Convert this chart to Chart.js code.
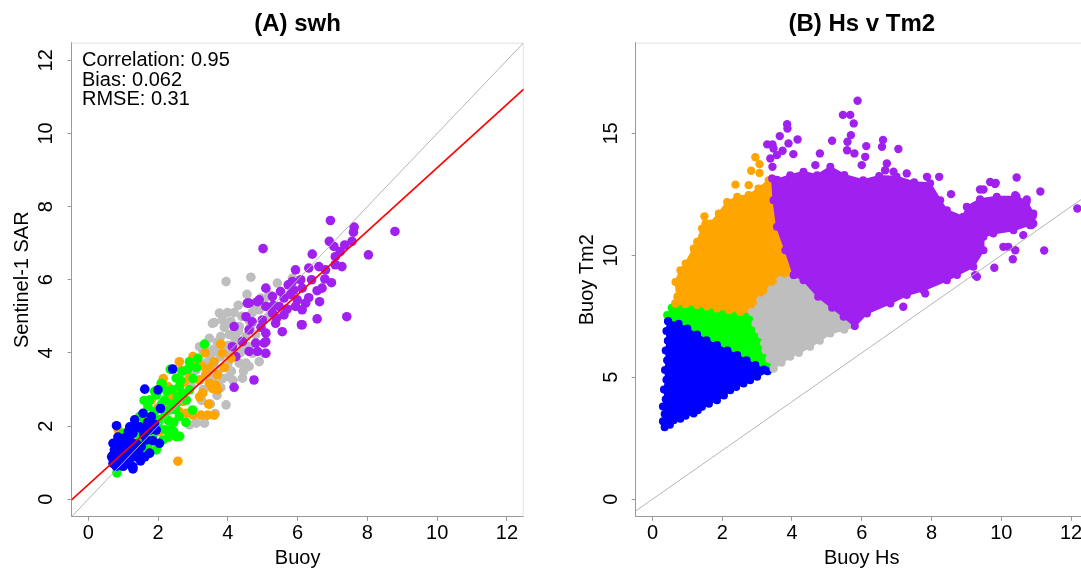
<!DOCTYPE html>
<html lang="en">
<head>
  <meta charset="UTF-8">
  <title>swh / Hs v Tm2</title>
  <script src="https://cdn.jsdelivr.net/npm/chart.js"></script>
  <style>
    html, body { margin: 0; padding: 0; background: #fff; overflow: hidden; }
    #wrap { position: relative; width: 1081px; height: 570px; overflow: hidden; }
    #swh { position: absolute; left: 0; top: 0; }
    #hstm { position: absolute; left: 560px; top: 0; }
  </style>
</head>
<body>
  <div id="wrap">
    <canvas id="swh" width="560" height="570"></canvas>
    <canvas id="hstm" width="540" height="570"></canvas>
  </div>

  <script>
    // ---- panel A: Sentinel-1 SAR vs buoy wave height ----
    const swhLimits = [-0.48, 12.48];
    const swhTicks = [0, 2, 4, 6, 8, 10, 12];
    const statLines = ['Correlation: 0.95', 'Bias: 0.062', 'RMSE: 0.31'];

    const swhBlue = [[0.71,1.53],[0.9,1.62],[1.1,1.71],[1.28,1.8],[1.0,1.44],[1.19,1.35],[0.81,1.26],[0.67,1.16],
      [0.9,1.07],[1.1,0.98],[1.28,0.89],[1.38,1.16],[1.52,1.44],[1.67,1.62],[1.76,1.89],[1.95,1.89],[2.04,1.53],
      [1.47,1.98],[1.19,1.98],[0.71,0.98],[1.76,1.26],[1.62,1.16],[2.42,3.56],[1.62,3.01],[2.0,2.99],[0.81,2.01],
      [2.07,2.48],[1.57,2.35],[1.81,2.26],[1.33,2.17],[0.95,1.3],[1.05,1.55],[0.85,1.4],[1.2,1.15],[1.4,1.5],
      [1.6,1.75],[1.85,1.6],[1.0,0.9],[0.8,0.9],[1.15,1.85],[1.28,0.83],[0.75,1.35],[0.95,1.2],[1.05,1.05],
      [1.15,1.45],[1.3,1.3],[1.45,1.25],[0.85,1.7],[1.0,1.65],[1.25,1.55],[1.35,1.95],[0.7,1.2],[1.5,1.05],
      [1.1,1.25],[0.9,1.5],[1.2,0.95],[1.55,1.9],[1.7,2.1],[1.9,2.05]];
    const swhGreen = [[3.33,4.24],[2.9,3.76],[3.14,3.85],[2.52,3.31],[2.61,3.08],[2.09,3.17],[1.95,2.85],[1.76,2.71],
      [2.19,2.71],[2.33,2.44],[2.61,2.26],[2.04,2.17],[1.76,1.98],[1.47,1.62],[2.33,1.89],[2.52,1.71],[2.14,1.62],
      [1.95,1.35],[1.67,1.26],[1.28,1.16],[0.82,0.72],[2.81,2.71],[2.9,2.99],[2.99,2.44],[1.47,2.26],[1.71,2.53],
      [1.0,1.8],[2.45,2.1],[2.25,2.95],[1.9,2.4],[2.7,3.5],[2.35,3.55],[1.55,1.45],[1.2,1.55],[2.8,2.1],[2.2,2.3],
      [1.85,1.75],[3.0,3.3],[2.55,2.8],[2.4,2.6],[1.6,2.05],[1.35,1.4],[2.12,3.14],[2.52,2.62],[2.62,1.72],[1.73,1.25],
      [1.5,1.85],[1.75,2.25],[2.0,2.0],[2.3,2.15],[2.1,2.6],[2.5,2.45],[2.7,2.9],[2.4,3.0],[1.9,2.95],[2.2,1.9],
      [2.45,1.85],[1.7,1.45],[1.4,1.15],[2.0,1.5],[2.65,3.25],[2.85,3.55],[3.1,3.6],[1.6,2.7],[2.3,1.7],[1.85,2.15]];
    const swhOrange = [[2.61,3.76],[3.8,4.24],[3.61,3.76],[3.38,3.44],[3.56,3.03],[3.71,2.99],[3.19,2.8],[3.0,2.3],
      [3.23,2.3],[3.42,2.3],[3.61,2.3],[2.9,3.35],[2.28,3.08],[2.47,2.94],[1.81,2.71],[2.71,2.67],[1.67,2.21],
      [1.28,1.8],[0.86,1.89],[2.57,1.04],[1.62,1.76],[2.04,1.85],[2.81,2.35],[3.09,3.63],[3.85,3.99],[4.09,3.85],
      [3.47,3.17],[3.66,3.12],[2.95,3.72],[2.66,3.53],[3.19,3.26],[3.28,2.9],[2.3,2.55],[2.0,2.5],[2.15,3.3],
      [1.45,1.3],[2.6,2.4],[3.35,4.0],[3.25,3.65],[3.5,3.6],[3.0,3.9],[2.75,3.2],[2.35,2.75],[1.95,2.2],[1.55,2.0],
      [3.45,2.6],[3.7,3.4],[3.9,3.6]];
    const swhGray = [[3.95,5.95],[4.66,6.07],[3.76,5.09],[3.99,5.1],[4.18,5.1],[3.61,4.83],[4.09,4.86],[4.33,4.72],
      [4.61,4.9],[4.9,5.18],[5.04,5.45],[5.18,5.59],[5.42,5.91],[5.85,6.04],[3.47,4.4],[3.8,4.45],[4.23,4.45],
      [4.52,4.45],[3.28,4.08],[3.66,4.04],[4.13,4.08],[4.42,4.17],[4.71,3.99],[3.38,3.72],[3.95,3.63],[4.33,3.72],
      [4.61,3.63],[3.09,3.53],[3.47,3.35],[4.04,3.35],[4.42,3.31],[3.19,3.26],[3.66,3.08],[5.04,3.99],[4.9,3.76],
      [3.56,4.81],[3.19,4.17],[3.38,4.08],[3.09,2.08],[3.33,2.08],[2.9,2.03],[3.95,2.58],[4.61,4.17],[4.52,3.72],
      [3.64,2.34],[3.69,2.84],[3.85,3.3],[4.2,3.9],[3.5,3.9],[4.0,4.2],[4.8,4.5],[3.9,4.7],[4.4,5.0],[3.3,3.0],
      [2.95,3.1],[4.1,3.5],[5.2,5.0],[4.75,5.35],[3.75,3.55],[3.6,3.6],[3.8,3.9],[4.0,3.7],[4.2,4.3],[4.35,4.0],
      [3.7,4.3],[3.9,4.0],[4.5,4.2],[4.3,4.6],[4.65,4.7],[4.05,4.5],[3.45,3.75],[3.6,4.1],[4.15,3.25],[3.8,3.05],
      [4.45,3.5],[3.35,3.35],[4.7,5.1],[4.95,5.5],[4.55,5.6],[4.3,5.3],[3.85,4.9],[3.55,3.25],[3.25,2.7],[3.5,2.6]];
    const swhPurple = [[6.94,7.62],[7.62,7.44],[7.6,7.3],[8.79,7.32],[7.56,7.05],[7.35,6.95],[6.91,7.05],[7.04,6.91],
      [5.01,6.85],[6.42,6.7],[7.22,6.77],[7.08,6.63],[8.03,6.68],[7.08,6.41],[7.27,6.36],[5.94,6.27],[6.32,6.32],
      [6.61,6.36],[6.8,6.27],[6.78,6.02],[6.97,5.92],[6.56,5.7],[6.7,5.77],[6.09,6.0],[5.85,5.95],[5.73,5.86],
      [5.51,5.68],[5.89,5.72],[6.13,5.77],[5.61,5.5],[5.99,5.45],[6.32,5.51],[6.23,5.36],[5.94,5.27],[6.13,5.18],
      [6.63,5.4],[6.56,4.93],[7.41,4.99],[6.11,4.77],[5.09,5.77],[5.28,5.54],[5.47,5.27],[5.09,5.27],[4.9,5.45],
      [4.61,5.36],[5.28,5.09],[4.99,4.9],[5.37,4.81],[5.56,4.58],[5.09,4.54],[4.61,4.63],[4.8,4.27],[4.52,4.99],
      [4.13,4.17],[4.18,4.72],[5.09,4.31],[4.56,5.36],[4.85,5.4],[5.61,5.04],[6.13,4.77],[5.04,4.27],[4.85,4.04],
      [4.61,4.04],[5.09,3.99],[4.75,3.26],[4.18,3.06],[4.23,3.9],[4.42,4.31],[5.3,5.3],[5.7,5.2],[5.4,4.95],
      [4.95,4.7],[5.8,5.6],[6.4,6.0],[4.7,4.85]];

    // fitted regression line, read at the axis limits
    const fitX = [-0.48, 12.48];
    const fitY = [-0.02, 11.21];

    // ---- panel B: buoy Hs vs buoy Tm2, clusters ----
    const hsLimits = [-0.48, 12.48];
    const tm2Limits = [-0.72, 18.72];
    const hsTicks = [0, 2, 4, 6, 8, 10, 12];
    const tm2Ticks = [0, 5, 10, 15];

    // outlines of the dense point clouds
    const hsBlueArea = [[0.45,7.3],[0.75,7.2],[1.0,7.0],[1.28,6.75],[1.55,6.52],[1.85,6.32],[2.15,6.1],[2.43,5.91],
      [2.7,5.7],[2.95,5.5],[3.2,5.32],[3.3,5.25],[3.0,5.02],[2.8,4.88],[2.61,4.75],[2.4,4.6],[2.23,4.47],[2.05,4.25],
      [1.85,4.06],[1.62,3.92],[1.42,3.79],[1.3,3.65],[1.18,3.52],[0.95,3.42],[0.8,3.3],[0.61,3.24],[0.5,3.05],
      [0.35,2.95],[0.3,3.2],[0.35,3.5],[0.3,3.8],[0.38,4.1],[0.33,4.5],[0.4,4.9],[0.36,5.3],[0.42,5.7],[0.38,6.1],
      [0.44,6.5],[0.4,6.9],[0.45,7.3]];
    const hsGreenArea = [[0.66,8.03],[0.95,8.0],[1.28,7.96],[1.55,7.9],[1.85,7.82],[2.2,7.75],[2.52,7.68],[2.86,7.68],
      [2.95,7.21],[3.05,6.95],[3.14,6.73],[3.2,6.4],[3.24,6.11],[3.35,5.75],[3.47,5.36],[3.3,5.25],[3.2,5.32],
      [2.95,5.5],[2.7,5.7],[2.43,5.91],[2.15,6.1],[1.85,6.32],[1.55,6.52],[1.28,6.75],[1.0,7.0],[0.75,7.2],
      [0.45,7.3],[0.42,7.55],[0.55,7.85],[0.66,8.03]];
    const hsOrangeArea = [[0.66,8.03],[0.95,8.0],[1.28,7.96],[1.55,7.9],[1.85,7.82],[2.2,7.75],[2.52,7.68],[2.86,7.68],
      [3.09,8.16],[3.4,8.6],[3.67,8.98],[4.05,9.19],[3.81,10.21],[3.57,11.17],[3.47,12.26],[3.43,13.15],[3.33,13.08],
      [3.04,12.74],[2.76,12.47],[2.43,12.4],[2.14,12.19],[1.9,11.72],[1.66,11.31],[1.52,11.31],[1.42,11.1],
      [1.28,10.56],[1.18,10.28],[0.95,9.67],[0.8,9.39],[0.66,8.91],[0.71,8.3],[0.66,8.03]];
    const hsGrayArea = [[2.86,7.68],[3.09,8.16],[3.4,8.6],[3.67,8.98],[4.05,9.19],[4.33,8.98],[4.75,8.3],[5.15,7.85],
      [5.48,7.48],[5.8,7.1],[5.5,6.95],[5.1,6.8],[4.8,6.5],[4.52,6.25],[4.2,6.0],[3.95,5.84],[3.7,5.6],[3.47,5.36],
      [3.35,5.75],[3.24,6.11],[3.2,6.4],[3.14,6.73],[3.05,6.95],[2.95,7.21],[2.86,7.68]];
    const hsPurpleArea = [[4.05,9.19],[3.81,10.21],[3.57,11.17],[3.47,12.26],[3.43,13.15],[3.57,13.1],[3.95,13.29],
      [4.33,13.43],[4.72,13.29],[5.1,13.63],[5.5,13.3],[6.04,13.08],[6.5,13.25],[7.0,13.22],[7.5,13.0],[7.96,12.96],
      [8.25,12.26],[8.44,11.85],[8.91,11.58],[9.01,11.99],[9.39,12.3],[9.87,12.4],[10.44,12.4],[10.73,12.2],
      [10.92,11.72],[10.92,11.31],[10.35,11.03],[9.77,10.9],[9.49,10.76],[9.49,10.21],[9.2,9.53],[8.73,9.19],
      [8.44,8.98],[7.77,8.57],[7.29,8.37],[6.82,8.03],[6.15,7.62],[5.8,7.1],[5.48,7.48],[5.15,7.85],[4.75,8.3],
      [4.33,8.98],[4.05,9.19]];

    // scattered points outside the dense clouds
    const hsOrangeDots = [[2.38,12.9],[2.76,12.88],[2.83,13.47],[3.07,13.38],[3.07,13.74],[2.95,14.02],[1.49,11.6]];
    const hsPurpleDots = [[3.29,14.55],[3.44,14.55],[3.47,14.38],[3.57,14.11],[3.38,13.97],[3.44,13.63],[3.65,14.89],
      [3.86,15.38],[3.87,15.2],[3.9,14.59],[3.73,14.29],[4.16,14.75],[4.04,14.15],[4.8,14.18],[4.67,13.7],[5.15,14.7],
      [5.46,15.76],[5.67,15.76],[5.77,15.41],[5.88,16.34],[5.69,14.93],[5.59,14.66],[5.58,14.31],[5.79,14.18],
      [6.13,14.48],[6.1,14.04],[6.0,13.7],[6.61,14.73],[6.58,14.45],[6.67,13.49],[7.05,14.36],[6.72,13.77],
      [7.29,13.36],[8.22,13.22],[8.56,12.51],[9.68,13.01],[10.44,13.19],[11.12,12.62],[9.82,12.93],[9.39,12.7],
      [7.87,13.22],[5.19,13.36],[6.91,13.43],[12.18,11.92],[11.23,10.2],[9.8,9.49],[9.25,9.19],[10.33,9.84],
      [10.2,10.35],[10.9,11.6],[10.73,12.29],[10.4,12.47],[9.49,12.7],[9.84,12.97],[10.82,11.24],[10.63,10.83],
      [7.87,12.4],[10.06,10.35],[10.4,10.21],[9.3,9.12],[7.19,7.89],[7.82,8.44],[10.58,11.69],[10.87,11.24]];

    const COLORS = { blue: '#0000FF', green: '#00FF00', orange: '#FFA500', gray: '#BEBEBE', purple: '#A020F0' };
    const AXIS = '#999999';
    const FRAME = '#E2E2E2';

    Chart.defaults.font.family = '"Liberation Sans", Arial, sans-serif';
    Chart.defaults.font.size = 20;
    Chart.defaults.color = '#000';

    const toXY = pts => pts.map(p => ({ x: p[0], y: p[1] }));

    function dots(pts, color, order, r) {
      return {
        data: toXY(pts), order,
        backgroundColor: color, borderColor: color,
        pointRadius: r, pointBorderWidth: 0, pointHoverRadius: r
      };
    }

    function area(pts, color, order) {
      return {
        data: toXY(pts), order,
        showLine: true, fill: 'shape', tension: 0,
        backgroundColor: color, borderColor: color, borderWidth: 2,
        pointRadius: 4, pointBorderWidth: 0, pointBackgroundColor: color
      };
    }

    function refLine(xs, ys, color, width, order) {
      return {
        data: xs.map((x, i) => ({ x, y: ys[i] })), order,
        showLine: true, fill: false, borderColor: color, borderWidth: width,
        pointRadius: 0, tension: 0
      };
    }

    // light box on the top and right sides
    const frame = {
      id: 'frame',
      beforeDatasetsDraw(chart) {
        const { ctx, chartArea: a } = chart;
        ctx.save();
        ctx.strokeStyle = FRAME;
        ctx.lineWidth = 1;
        ctx.beginPath();
        ctx.moveTo(a.left, a.top + 0.5);
        ctx.lineTo(a.right - 0.5, a.top + 0.5);
        ctx.lineTo(a.right - 0.5, a.bottom);
        ctx.stroke();
        ctx.restore();
      }
    };

    // titles, rotated y tick labels, axis labels and the stats block
    const panelText = {
      id: 'panelText',
      afterDraw(chart, args, opts) {
        const { ctx, chartArea: a } = chart;
        const yScale = chart.scales.y;
        const cx = (a.left + a.right) / 2;
        ctx.save();
        ctx.fillStyle = '#000';
        ctx.textBaseline = 'alphabetic';
        ctx.textAlign = 'center';
        ctx.font = 'bold 24px "Liberation Sans", Arial, sans-serif';
        ctx.fillText(opts.title, cx, 30.7);

        ctx.font = '20px "Liberation Sans", Arial, sans-serif';
        ctx.fillText(opts.xLabel, cx, 564);

        opts.yTicks.forEach(v => {
          ctx.save();
          ctx.translate(a.left - 19.2, yScale.getPixelForValue(v));
          ctx.rotate(-Math.PI / 2);
          ctx.fillText(String(v), 0, 0);
          ctx.restore();
        });

        ctx.save();
        ctx.translate(a.left - 43.2, (a.top + a.bottom) / 2);
        ctx.rotate(-Math.PI / 2);
        ctx.fillText(opts.yLabel, 0, 0);
        ctx.restore();

        if (opts.stats) {
          ctx.textAlign = 'left';
          opts.stats.forEach((s, i) => ctx.fillText(s, a.left + 10.5, a.top + 23.3 + i * 19.7));
        }
        ctx.restore();
      }
    };

    function panelOptions(xLim, yLim, xTicks, axisWidth, padRight, text) {
      return {
        responsive: false,
        animation: false,
        events: [],
        layout: { padding: { top: 42.7, right: padRight, left: 0, bottom: 0 } },
        plugins: {
          legend: { display: false },
          tooltip: { enabled: false },
          panelText: text
        },
        scales: {
          x: {
            type: 'linear', min: xLim[0], max: xLim[1],
            afterBuildTicks: s => { s.ticks = xTicks.map(v => ({ value: v })); },
            afterFit: s => { s.height = 53.2; },
            grid: { drawOnChartArea: false, drawTicks: true, tickLength: 4, tickColor: AXIS },
            border: { display: true, color: AXIS, width: 1 },
            ticks: { padding: 1, maxRotation: 0, autoSkip: false, callback: v => String(v) }
          },
          y: {
            type: 'linear', min: yLim[0], max: yLim[1],
            afterBuildTicks: s => { s.ticks = text.yTicks.map(v => ({ value: v })); },
            afterFit: s => { s.width = axisWidth; },
            grid: { drawOnChartArea: false, drawTicks: true, tickLength: 4, tickColor: AXIS },
            border: { display: true, color: AXIS, width: 1 },
            ticks: { display: false }
          }
        }
      };
    }

    new Chart(document.getElementById('swh'), {
      type: 'scatter',
      data: {
        datasets: [
          dots(swhGray, COLORS.gray, 6, 4.8),
          dots(swhPurple, COLORS.purple, 5, 4.8),
          dots(swhOrange, COLORS.orange, 4, 4.8),
          dots(swhGreen, COLORS.green, 3, 4.8),
          dots(swhBlue, COLORS.blue, 2, 4.8),
          refLine(swhLimits, swhLimits, '#B5B5B5', 1, 1),
          refLine(fitX, fitY, '#FF0000', 1.6, 0)
        ]
      },
      options: panelOptions(swhLimits, swhLimits, swhTicks, 71.5, 36.3, {
        title: '(A) swh', xLabel: 'Buoy', yLabel: 'Sentinel-1 SAR', yTicks: swhTicks, stats: statLines
      }),
      plugins: [frame, panelText]
    });

    new Chart(document.getElementById('hstm'), {
      type: 'scatter',
      data: {
        datasets: [
          area(hsGreenArea, COLORS.green, 10),
          area(hsBlueArea, COLORS.blue, 9),
          area(hsOrangeArea, COLORS.orange, 8),
          area(hsGrayArea, COLORS.gray, 7),
          area(hsPurpleArea, COLORS.purple, 6),
          dots(hsOrangeDots, COLORS.orange, 5, 4.2),
          dots(hsPurpleDots, COLORS.purple, 4, 4.2),
          refLine(hsLimits, hsLimits, '#B5B5B5', 1, 0)
        ]
      },
      options: panelOptions(hsLimits, tm2Limits, hsTicks, 75.7, 12.2, {
        title: '(B) Hs v Tm2', xLabel: 'Buoy Hs', yLabel: 'Buoy Tm2', yTicks: tm2Ticks, stats: null
      }),
      plugins: [frame, panelText]
    });
  </script>
</body>
</html>
